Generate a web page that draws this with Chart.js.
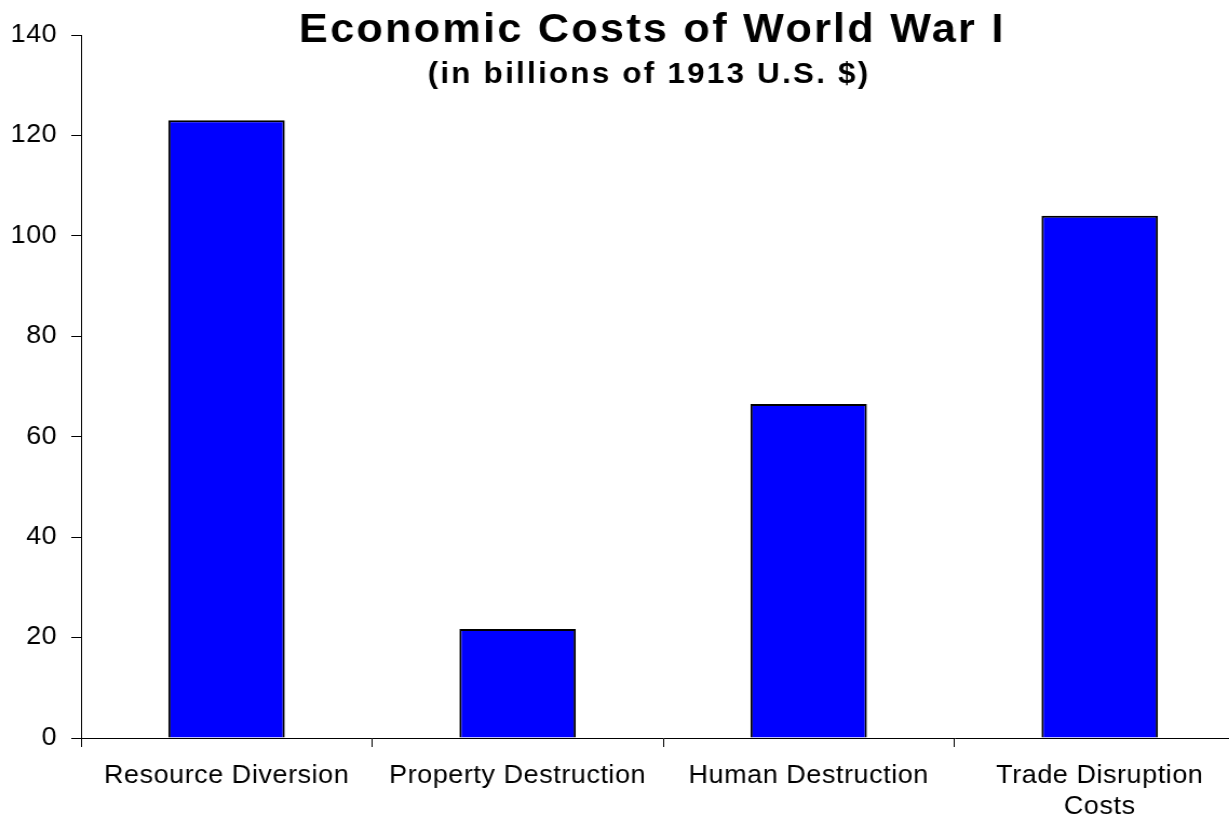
<!DOCTYPE html>
<html>
<head>
<meta charset="utf-8">
<script src="https://cdn.jsdelivr.net/npm/chart.js@4"></script>
<style>
  html, body { margin: 0; padding: 0; background: #fff; overflow: hidden; }
  /* the original picture is a little stretched sideways; the x axis runs past the window */
  #wrap {
    position: relative;
    width: 1153px;
    height: 818px;
    transform: scaleX(1.08);
    transform-origin: 0 0;
  }
</style>
</head>
<body>
<div id="wrap"><canvas id="chart"></canvas></div>
<script>
// Data
const categories = ['Resource Diversion', 'Property Destruction', 'Human Destruction', ['Trade Disruption', 'Costs']];
const costs = [123, 21.7, 66.5, 104];
const yTicks = [0, 20, 40, 60, 80, 100, 120, 140];
const titleText = 'Economic Costs of World War I';
const subtitleText = '(in billions of 1913 U.S. $)';

const FONT = '"Liberation Sans", Arial, sans-serif';

// ── Slightly loose letter spacing like the original ──────────
const spacing = {
  id: 'spacing',
  beforeLayout(chart) { chart.ctx.letterSpacing = '0.5px'; },
  beforeDraw(chart) { chart.ctx.letterSpacing = '0.5px'; }
};

// ── Title drawn over the plot area ───────────────────────────
const overlayTitle = {
  id: 'overlayTitle',
  afterDraw(chart) {
    const ctx = chart.ctx;
    ctx.save();
    ctx.fillStyle = '#000';
    ctx.textAlign = 'center';
    ctx.textBaseline = 'alphabetic';
    ctx.letterSpacing = '2.1px';
    ctx.font = 'bold 40px ' + FONT;
    ctx.fillText(titleText, 604, 42);
    ctx.letterSpacing = '2.1px';
    ctx.font = 'bold 29px ' + FONT;
    ctx.fillText(subtitleText, 601, 83);
    ctx.restore();
  }
};

// ── Chart ────────────────────────────────────────────────────
const ctx = document.getElementById('chart').getContext('2d');
new Chart(ctx, {
  type: 'bar',
  data: {
    labels: categories,
    datasets: [{
      data: costs,
      backgroundColor: '#0000ff',
      borderColor: '#000',
      borderWidth: 2,
      barPercentage: 0.4,
      categoryPercentage: 1.0,
    }]
  },
  options: {
    responsive: true,
    maintainAspectRatio: false,
    animation: false,
    layout: { padding: { top: 35, left: 0, right: 0, bottom: 0 } },
    scales: {
      x: {
        grid: { drawOnChartArea: false, color: '#000', tickLength: 9, offset: true },
        border: { color: '#000', width: 1 },
        ticks: { color: '#000', font: { family: FONT, size: 25, lineHeight: 1.25 }, padding: 13, maxRotation: 0, autoSkip: false },
        afterFit: s => { s.height = 80; }
      },
      y: {
        min: 0,
        max: 140,
        afterBuildTicks: s => { s.ticks = yTicks.map(v => ({ value: v })); },
        grid: { drawOnChartArea: false, color: '#000', tickLength: 9 },
        border: { color: '#000', width: 1 },
        ticks: { color: '#000', font: { family: FONT, size: 25 }, padding: 13 },
        afterFit: s => { s.width = 75; }
      }
    },
    plugins: {
      legend: { display: false },
      tooltip: { enabled: false }
    }
  },
  plugins: [spacing, overlayTitle]
});
</script>
</body>
</html>
